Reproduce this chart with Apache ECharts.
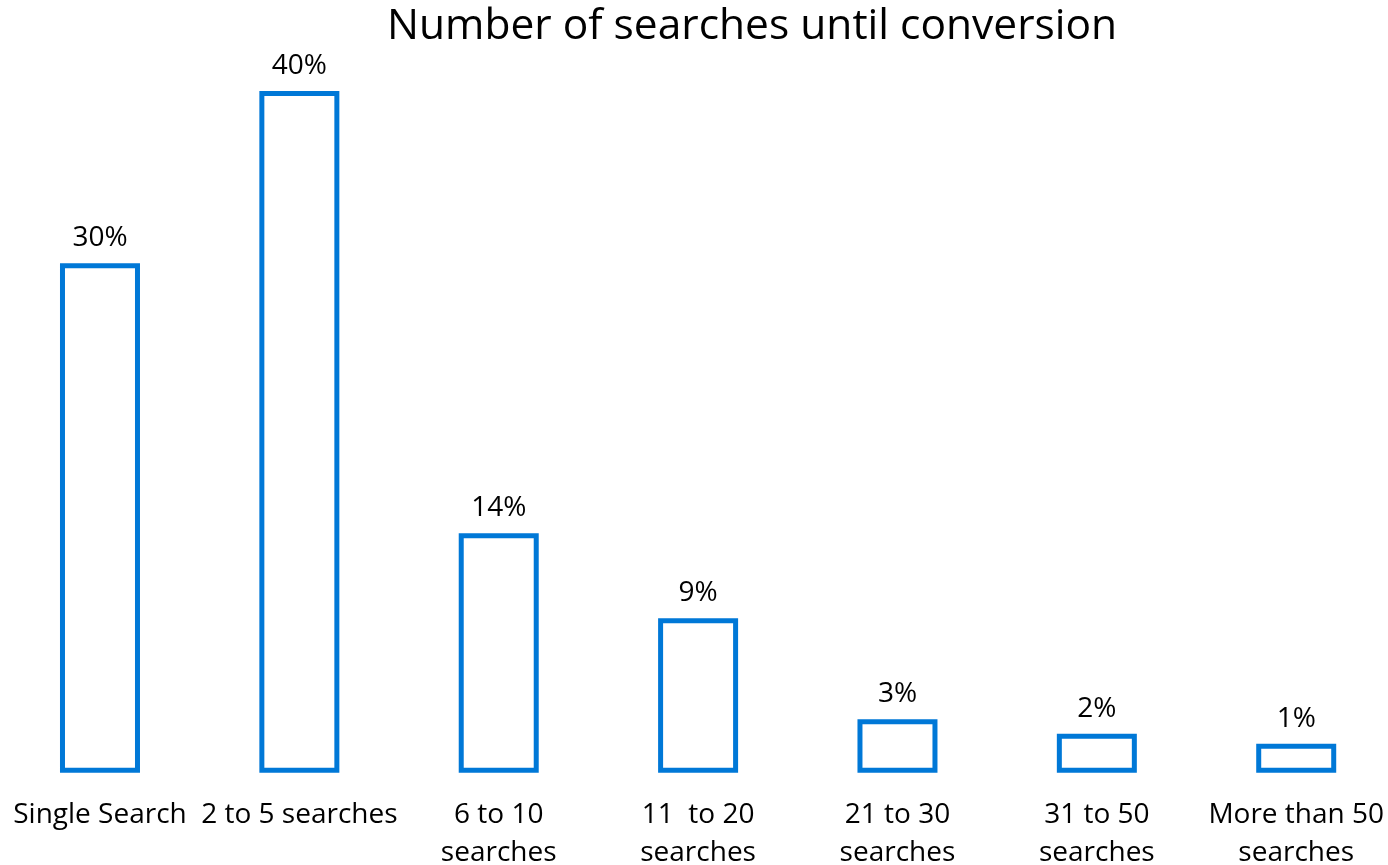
<!DOCTYPE html>
<html>
<head>
<meta charset="utf-8">
<script src="https://cdn.jsdelivr.net/npm/echarts@6/dist/echarts.min.js"></script>
<style>
html,body{margin:0;padding:0;background:#fff;}
#chart{width:1388px;height:865px;}
</style>
</head>
<body>
<div id="chart"></div>
<script>
var titleText = 'Number of searches until conversion';
var categories = ['Single Search', '2 to 5 searches', '6 to 10\nsearches', '11  to 20\nsearches', '21 to 30\nsearches', '31 to 50\nsearches', 'More than 50\nsearches'];
var values = [30, 40.15, 14.1, 9.1, 3.15, 2.3, 1.7];
var valueLabels = ['30%', '40%', '14%', '9%', '3%', '2%', '1%'];

var FONT = '"Open Sans", "Noto Sans", sans-serif';
var chart = echarts.init(document.getElementById('chart'), null, {renderer: 'canvas'});
chart.setOption({
  backgroundColor: '#ffffff',
  animation: false,
  title: {
    text: titleText,
    left: 382,
    top: 0,
    textStyle: {fontFamily: FONT, fontSize: 42.5, fontWeight: 'normal', color: '#000'}
  },
  grid: {left: 0.3, right: -7.9, top: 8.6, bottom: 92.3, containLabel: false, outerBoundsMode: 'none'},
  xAxis: {
    type: 'category',
    data: categories,
    axisLine: {show: false},
    axisTick: {show: false},
    splitLine: {show: false},
    axisLabel: {
      interval: 0,
      margin: 23,
      fontFamily: FONT,
      fontSize: 28,
      lineHeight: 38,
      color: '#000'
    }
  },
  yAxis: {
    type: 'value',
    min: 0,
    max: 45,
    show: false,
    splitLine: {show: false}
  },
  series: [{
    type: 'bar',
    data: values,
    barWidth: 80,
    itemStyle: {color: '#ffffff', borderColor: '#0078D7', borderWidth: 5},
    label: {
      show: true,
      position: 'top',
      distance: 11,
      fontFamily: FONT,
      fontSize: 28,
      color: '#000',
      formatter: function (p) { return valueLabels[p.dataIndex]; }
    }
  }]
});
</script>
</body>
</html>
